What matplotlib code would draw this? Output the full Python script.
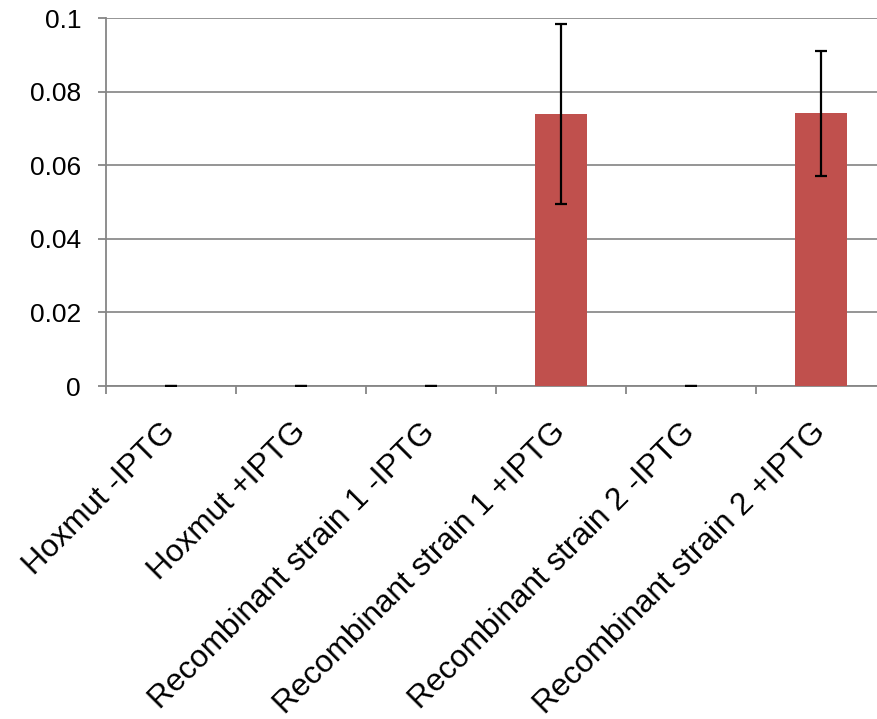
import matplotlib.pyplot as plt
import matplotlib.transforms as mtransforms

plt.rcParams['font.family'] = ['Liberation Sans', 'DejaVu Sans']

# data
categories = ["Hoxmut -IPTG", "Hoxmut +IPTG", "Recombinant strain 1 -IPTG",
              "Recombinant strain 1 +IPTG", "Recombinant strain 2 -IPTG",
              "Recombinant strain 2 +IPTG"]
values = [0, 0, 0, 0.0739, 0, 0.0741]
errors = [0, 0, 0, 0.0244, 0, 0.0169]

fig = plt.figure(figsize=(8.77, 7.19), dpi=100)
ax = fig.add_axes([106 / 877, 1 - 386 / 719, (877 - 106) / 877, 368 / 719])

x = range(len(categories))
ax.bar(x, values, width=0.4, color="#C0504D", zorder=3)
ax.errorbar(x, values, yerr=errors, fmt="none", ecolor="black",
            elinewidth=1.6, capsize=4.3, capthick=1.6, zorder=4)

ax.set_yticks([0, 0.02, 0.04, 0.06, 0.08, 0.1])
ax.set_yticklabels(["0", "0.02", "0.04", "0.06", "0.08", "0.1"])

# category boundary ticks
ax.set_xticks([i - 0.5 for i in range(7)])
ax.set_xticklabels([])
ax.set_xticks(list(x), minor=True)
ax.set_xticklabels(categories, minor=True, rotation=45, ha="right",
                   va="center", rotation_mode="anchor", fontsize=22.7)
ax.set_xlim(-0.5, 5.5 - 9 / 130)
ax.set_ylim(0, 0.1)

shift = mtransforms.ScaledTranslation(12 / 100, 0, fig.dpi_scale_trans)
for lab in ax.get_xticklabels(minor=True):
    lab.set_transform(lab.get_transform() + shift)

ax.tick_params(axis="x", which="minor", length=0, pad=30)
ax.tick_params(axis="x", which="major", length=6, width=1.3, color="#868686")
ax.tick_params(axis="y", length=6, width=1.3, color="#868686", labelsize=19, pad=12)

ax.grid(axis="y", color="#8c8c8c", linewidth=1.3, zorder=0)
for s in ["top", "right"]:
    ax.spines[s].set_visible(False)
for s in ["left", "bottom"]:
    ax.spines[s].set_color("#868686")
    ax.spines[s].set_linewidth(1.3)

fig.savefig("out.png", dpi=100)
